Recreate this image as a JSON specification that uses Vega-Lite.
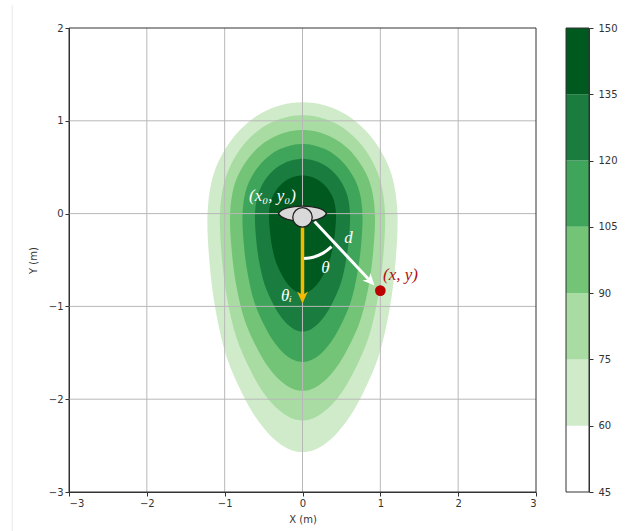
{"$schema":"https://vega.github.io/schema/vega-lite/v6.json","background":"white","padding":{"left":11,"top":4,"right":5,"bottom":0},"spacing":28,"config":{"view":{"stroke":null},"font":"DejaVu Sans","axis":{"labelFont":"DejaVu Sans","titleFont":"DejaVu Sans","labelFontSize":10,"titleFontSize":10,"titleFontWeight":"normal","labelColor":"#333333","titleColor":"#333333","tickColor":"#333333","domainColor":"#333333","tickSize":4,"grid":false}},"datasets":{"contours":[
{"level":"60","y":1.2,"xl":0,"xr":0},{"level":"60","y":1.194,"xl":-0.122,"xr":0.122},{"level":"60","y":1.176,"xl":-0.243,"xr":0.243},{"level":"60","y":1.116,"xl":-0.449,"xr":0.449},{"level":"60","y":1.02,"xl":-0.643,"xr":0.643},{"level":"60","y":0.84,"xl":-0.871,"xr":0.871},{"level":"60","y":0.6,"xl":-1.057,"xr":1.057},{"level":"60","y":0.36,"xl":-1.164,"xr":1.164},{"level":"60","y":0,"xl":-1.22,"xr":1.22},{"level":"60","y":-0.514,"xl":-1.196,"xr":1.196},{"level":"60","y":-1.028,"xl":-1.119,"xr":1.119},{"level":"60","y":-1.542,"xl":-0.976,"xr":0.976},{"level":"60","y":-1.928,"xl":-0.781,"xr":0.781},{"level":"60","y":-2.185,"xl":-0.61,"xr":0.61},{"level":"60","y":-2.39,"xl":-0.415,"xr":0.415},{"level":"60","y":-2.519,"xl":-0.22,"xr":0.22},{"level":"60","y":-2.557,"xl":-0.11,"xr":0.11},{"level":"60","y":-2.57,"xl":0,"xr":0},
{"level":"75","y":1.06,"xl":0,"xr":0},{"level":"75","y":1.055,"xl":-0.106,"xr":0.106},{"level":"75","y":1.039,"xl":-0.211,"xr":0.211},{"level":"75","y":0.986,"xl":-0.39,"xr":0.39},{"level":"75","y":0.901,"xl":-0.559,"xr":0.559},{"level":"75","y":0.742,"xl":-0.757,"xr":0.757},{"level":"75","y":0.53,"xl":-0.918,"xr":0.918},{"level":"75","y":0.318,"xl":-1.011,"xr":1.011},{"level":"75","y":0,"xl":-1.06,"xr":1.06},{"level":"75","y":-0.446,"xl":-1.039,"xr":1.039},{"level":"75","y":-0.892,"xl":-0.972,"xr":0.972},{"level":"75","y":-1.338,"xl":-0.848,"xr":0.848},{"level":"75","y":-1.673,"xl":-0.678,"xr":0.678},{"level":"75","y":-1.896,"xl":-0.53,"xr":0.53},{"level":"75","y":-2.074,"xl":-0.36,"xr":0.36},{"level":"75","y":-2.185,"xl":-0.191,"xr":0.191},{"level":"75","y":-2.219,"xl":-0.095,"xr":0.095},{"level":"75","y":-2.23,"xl":0,"xr":0},
{"level":"90","y":0.9,"xl":0,"xr":0},{"level":"90","y":0.896,"xl":-0.093,"xr":0.093},{"level":"90","y":0.882,"xl":-0.185,"xr":0.185},{"level":"90","y":0.837,"xl":-0.342,"xr":0.342},{"level":"90","y":0.765,"xl":-0.49,"xr":0.49},{"level":"90","y":0.63,"xl":-0.664,"xr":0.664},{"level":"90","y":0.45,"xl":-0.805,"xr":0.805},{"level":"90","y":0.27,"xl":-0.887,"xr":0.887},{"level":"90","y":0,"xl":-0.93,"xr":0.93},{"level":"90","y":-0.382,"xl":-0.911,"xr":0.911},{"level":"90","y":-0.764,"xl":-0.853,"xr":0.853},{"level":"90","y":-1.146,"xl":-0.744,"xr":0.744},{"level":"90","y":-1.433,"xl":-0.595,"xr":0.595},{"level":"90","y":-1.624,"xl":-0.465,"xr":0.465},{"level":"90","y":-1.776,"xl":-0.316,"xr":0.316},{"level":"90","y":-1.872,"xl":-0.167,"xr":0.167},{"level":"90","y":-1.9,"xl":-0.084,"xr":0.084},{"level":"90","y":-1.91,"xl":0,"xr":0},
{"level":"105","y":0.75,"xl":0,"xr":0},{"level":"105","y":0.746,"xl":-0.077,"xr":0.077},{"level":"105","y":0.735,"xl":-0.153,"xr":0.153},{"level":"105","y":0.698,"xl":-0.283,"xr":0.283},{"level":"105","y":0.638,"xl":-0.406,"xr":0.406},{"level":"105","y":0.525,"xl":-0.55,"xr":0.55},{"level":"105","y":0.375,"xl":-0.667,"xr":0.667},{"level":"105","y":0.225,"xl":-0.735,"xr":0.735},{"level":"105","y":0,"xl":-0.77,"xr":0.77},{"level":"105","y":-0.32,"xl":-0.755,"xr":0.755},{"level":"105","y":-0.64,"xl":-0.706,"xr":0.706},{"level":"105","y":-0.96,"xl":-0.616,"xr":0.616},{"level":"105","y":-1.2,"xl":-0.493,"xr":0.493},{"level":"105","y":-1.36,"xl":-0.385,"xr":0.385},{"level":"105","y":-1.488,"xl":-0.262,"xr":0.262},{"level":"105","y":-1.568,"xl":-0.139,"xr":0.139},{"level":"105","y":-1.592,"xl":-0.069,"xr":0.069},{"level":"105","y":-1.6,"xl":0,"xr":0},
{"level":"120","y":0.59,"xl":0,"xr":0},{"level":"120","y":0.587,"xl":-0.061,"xr":0.061},{"level":"120","y":0.578,"xl":-0.121,"xr":0.121},{"level":"120","y":0.549,"xl":-0.224,"xr":0.224},{"level":"120","y":0.502,"xl":-0.321,"xr":0.321},{"level":"120","y":0.413,"xl":-0.436,"xr":0.436},{"level":"120","y":0.295,"xl":-0.528,"xr":0.528},{"level":"120","y":0.177,"xl":-0.582,"xr":0.582},{"level":"120","y":0,"xl":-0.61,"xr":0.61},{"level":"120","y":-0.254,"xl":-0.598,"xr":0.598},{"level":"120","y":-0.508,"xl":-0.559,"xr":0.559},{"level":"120","y":-0.762,"xl":-0.488,"xr":0.488},{"level":"120","y":-0.953,"xl":-0.39,"xr":0.39},{"level":"120","y":-1.08,"xl":-0.305,"xr":0.305},{"level":"120","y":-1.181,"xl":-0.207,"xr":0.207},{"level":"120","y":-1.245,"xl":-0.11,"xr":0.11},{"level":"120","y":-1.264,"xl":-0.055,"xr":0.055},{"level":"120","y":-1.27,"xl":0,"xr":0},
{"level":"135","y":0.41,"xl":0,"xr":0},{"level":"135","y":0.408,"xl":-0.043,"xr":0.043},{"level":"135","y":0.402,"xl":-0.086,"xr":0.086},{"level":"135","y":0.381,"xl":-0.158,"xr":0.158},{"level":"135","y":0.349,"xl":-0.227,"xr":0.227},{"level":"135","y":0.287,"xl":-0.307,"xr":0.307},{"level":"135","y":0.205,"xl":-0.372,"xr":0.372},{"level":"135","y":0.123,"xl":-0.41,"xr":0.41},{"level":"135","y":0,"xl":-0.43,"xr":0.43},{"level":"135","y":-0.172,"xl":-0.421,"xr":0.421},{"level":"135","y":-0.344,"xl":-0.394,"xr":0.394},{"level":"135","y":-0.516,"xl":-0.344,"xr":0.344},{"level":"135","y":-0.645,"xl":-0.275,"xr":0.275},{"level":"135","y":-0.731,"xl":-0.215,"xr":0.215},{"level":"135","y":-0.8,"xl":-0.146,"xr":0.146},{"level":"135","y":-0.843,"xl":-0.077,"xr":0.077},{"level":"135","y":-0.856,"xl":-0.039,"xr":0.039},{"level":"135","y":-0.86,"xl":0,"xr":0}
]},"hconcat":[{"width":467,"height":464,"layer":[
{"data":{"name":"contours"},"mark":{"type":"area","orient":"horizontal","interpolate":"catmull-rom"},"encoding":{"y":{"field":"y","type":"quantitative","scale":{"domain":[-3,2],"nice":false,"zero":false},"axis":{"values":[-3,-2,-1,0,1,2],"format":"d","title":"Y (m)","titlePadding":10}},"x":{"field":"xl","type":"quantitative","scale":{"domain":[-3,3],"nice":false,"zero":false},"axis":{"values":[-3,-2,-1,0,1,2,3],"format":"d","title":"X (m)","titlePadding":6}},"x2":{"field":"xr"},"color":{"field":"level","type":"nominal","legend":null,"sort":null,"scale":{"domain":["60","75","90","105","120","135"],"range":["#cfebc9","#a9dca3","#73c476","#3fa55b","#1a7d3f","#00591f"]}},"order":{"field":"level","type":"quantitative"},"detail":{"field":"level"}}},
{"data":{"values":[{"x":-2},{"x":-1},{"x":0},{"x":1},{"x":2}]},"mark":{"type":"rule","color":"#b8b8b8","strokeWidth":1},"encoding":{"x":{"field":"x","type":"quantitative"}}},
{"data":{"values":[{"y":-2},{"y":-1},{"y":0},{"y":1}]},"mark":{"type":"rule","color":"#b8b8b8","strokeWidth":1},"encoding":{"y":{"field":"y","type":"quantitative"}}},
{"data":{"values":[{"x":-3.73,"y":2.25,"y2":-3.43}]},"mark":{"type":"rule","color":"#e8e8e8","strokeWidth":1,"clip":false},"encoding":{"x":{"field":"x","type":"quantitative"},"y":{"field":"y","type":"quantitative"},"y2":{"field":"y2"}}},
{"data":{"values":[{"x":0,"y":-0.147},{"x":0,"y":-0.9}]},"mark":{"type":"line","color":"#f6b900","strokeWidth":3.5},"encoding":{"x":{"field":"x","type":"quantitative"},"y":{"field":"y","type":"quantitative"}}},
{"data":{"values":[{"x":0,"y":-0.905}]},"mark":{"type":"point","filled":true,"opacity":1,"color":"#f6b900","size":144,"shape":"M0,1L-0.9,-1L0,-0.4L0.9,-1Z"},"encoding":{"x":{"field":"x","type":"quantitative"},"y":{"field":"y","type":"quantitative"}}},
{"data":{"values":[{"x":0.154,"y":-0.086},{"x":0.873,"y":-0.728}]},"mark":{"type":"line","color":"white","strokeWidth":3},"encoding":{"x":{"field":"x","type":"quantitative"},"y":{"field":"y","type":"quantitative"}}},
{"data":{"values":[{"x":0.873,"y":-0.728}]},"mark":{"type":"point","filled":true,"opacity":1,"color":"white","size":144,"angle":317,"shape":"M0,1L-0.9,-1L0,-0.4L0.9,-1Z"},"encoding":{"x":{"field":"x","type":"quantitative"},"y":{"field":"y","type":"quantitative"}}},
{"data":{"values":[{"x":0.02,"y":-0.485},{"x":0.136,"y":-0.47},{"x":0.264,"y":-0.426},{"x":0.373,"y":-0.356}]},"mark":{"type":"line","color":"white","strokeWidth":3,"interpolate":"catmull-rom"},"encoding":{"x":{"field":"x","type":"quantitative"},"y":{"field":"y","type":"quantitative"}}},
{"data":{"values":[{"x":0,"y":0}]},"mark":{"type":"point","filled":true,"opacity":1,"fill":"#d9d9d9","stroke":"#222222","strokeWidth":1.3,"size":2304,"shape":"M-1,0C-0.8,-0.42 0.8,-0.42 1,0C0.8,0.42 -0.8,0.42 -1,0Z"},"encoding":{"x":{"field":"x","type":"quantitative"},"y":{"field":"y","type":"quantitative"}}},
{"data":{"values":[{"x":0,"y":-0.04}]},"mark":{"type":"point","filled":true,"opacity":1,"fill":"#d9d9d9","stroke":"#222222","strokeWidth":1.3,"size":380,"shape":"circle"},"encoding":{"x":{"field":"x","type":"quantitative"},"y":{"field":"y","type":"quantitative"}}},
{"data":{"values":[{"x":1,"y":-0.83}]},"mark":{"type":"point","filled":true,"opacity":1,"color":"#bb0000","size":113,"shape":"circle"},"encoding":{"x":{"field":"x","type":"quantitative"},"y":{"field":"y","type":"quantitative"}}},
{"data":{"values":[{"x":-0.386,"y":0.19,"label":"(x₀, y₀)","c":"w"},{"x":0.591,"y":-0.259,"label":"d","c":"w"},{"x":0.296,"y":-0.582,"label":"θ","c":"w"},{"x":-0.206,"y":-0.889,"label":"θᵢ","c":"w"},{"x":1.26,"y":-0.657,"label":"(x, y)","c":"r"}]},"mark":{"type":"text","font":"Liberation Serif","fontStyle":"italic","fontSize":17,"align":"center","baseline":"middle"},"encoding":{"x":{"field":"x","type":"quantitative"},"y":{"field":"y","type":"quantitative"},"text":{"field":"label"},"color":{"field":"c","type":"nominal","legend":null,"scale":{"domain":["w","r"],"range":["white","#b01010"]}}}},
{"data":{"values":[{"x":-3},{"x":3}]},"mark":{"type":"rule","color":"#333333","strokeWidth":1},"encoding":{"x":{"field":"x","type":"quantitative"}}},
{"data":{"values":[{"y":2},{"y":-3}]},"mark":{"type":"rule","color":"#333333","strokeWidth":1},"encoding":{"y":{"field":"y","type":"quantitative"}}}
],"resolve":{"scale":{"color":"independent"}}},
{"width":23,"height":464,"layer":[{"data":{"values":[{"lo":45,"hi":60,"band":"45"},{"lo":60,"hi":75,"band":"60"},{"lo":75,"hi":90,"band":"75"},{"lo":90,"hi":105,"band":"90"},{"lo":105,"hi":120,"band":"105"},{"lo":120,"hi":135,"band":"120"},{"lo":135,"hi":150,"band":"135"}]},"mark":{"type":"rect"},"encoding":{"y":{"field":"lo","type":"quantitative","scale":{"domain":[45,150],"nice":false,"zero":false},"axis":{"orient":"right","values":[45,60,75,90,105,120,135,150],"title":null,"labelPadding":5}},"y2":{"field":"hi"},"color":{"field":"band","type":"nominal","legend":null,"scale":{"domain":["45","60","75","90","105","120","135"],"range":["#ffffff","#cfebc9","#a9dca3","#73c476","#3fa55b","#1a7d3f","#00591f"]}}}},
{"data":{"values":[{"lo":45,"hi":150}]},"mark":{"type":"rect","fillOpacity":0,"stroke":"#333333","strokeWidth":1},"encoding":{"y":{"field":"lo","type":"quantitative"},"y2":{"field":"hi"}}}
],"resolve":{"scale":{"color":"independent"}}}
]}
